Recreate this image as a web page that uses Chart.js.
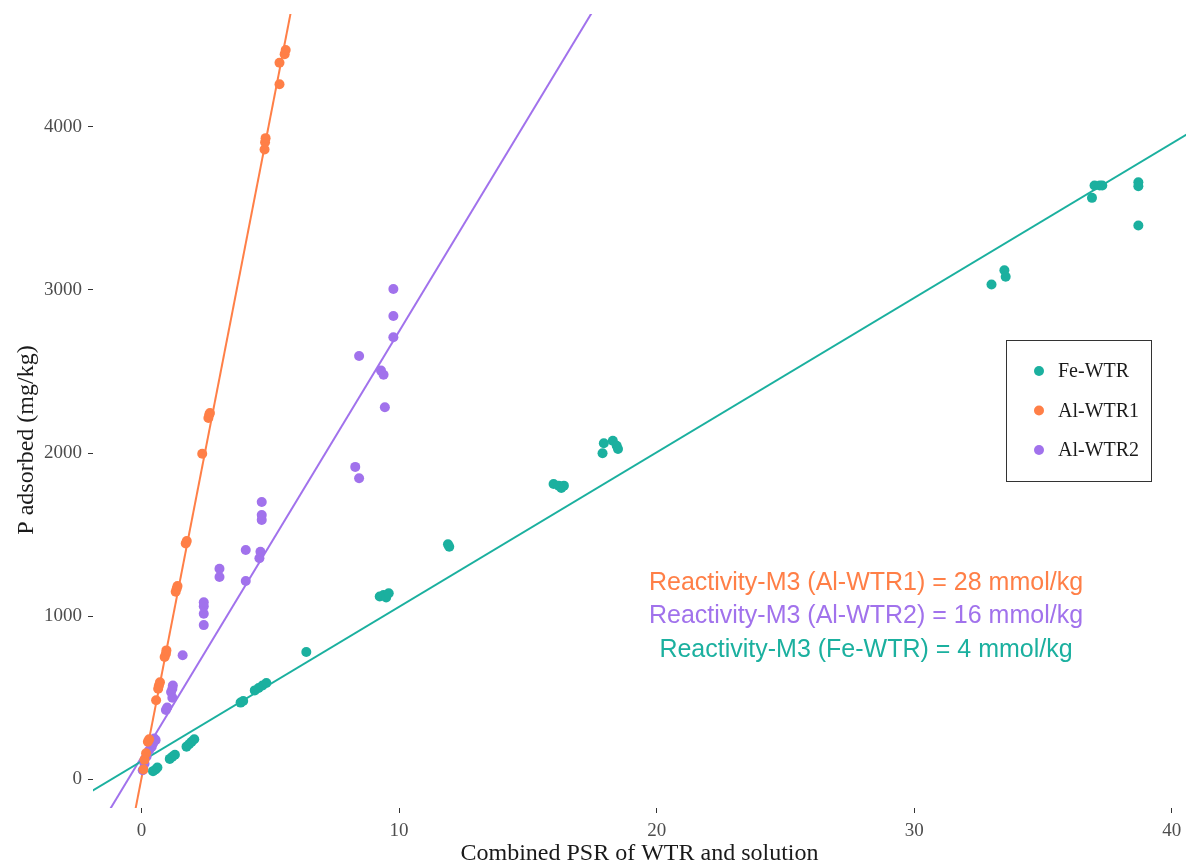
<!DOCTYPE html>
<html>
<head>
<meta charset="utf-8">
<script src="https://cdn.jsdelivr.net/npm/chart.js@4/dist/chart.umd.min.js"></script>
<style>
  html, body { margin: 0; padding: 0; background: #fff; }
  #wrap { width: 1186px; height: 867px; }
</style>
</head>
<body>
<div id="wrap"><canvas id="psr"></canvas></div>
<script>
// --- measured points ---
const feX = [0.45, 0.55, 0.62, 1.1, 1.2, 1.3, 1.75, 1.85, 1.95, 2.05, 3.85, 3.95, 4.4, 4.55, 4.7, 4.85, 6.4,
  9.25, 9.4, 9.5, 9.6, 11.9, 11.95, 16.0, 16.2, 16.3, 16.4, 17.9, 17.95, 18.3, 18.45, 18.5,
  33.0, 33.5, 33.55, 36.9, 37.0, 37.2, 37.3, 38.7, 38.7, 38.7];
const feY = [50, 60, 72, 125, 138, 150, 200, 215, 230, 245, 470, 480, 545, 560, 575, 590, 780,
  1120, 1130, 1115, 1140, 1440, 1425, 1810, 1800, 1785, 1800, 1998, 2060, 2075, 2045, 2025,
  3033, 3120, 3080, 3564, 3640, 3640, 3640, 3660, 3635, 3395];

const al1X = [0.08, 0.12, 0.18, 0.25, 0.3, 0.57, 0.65, 0.68, 0.72, 0.9, 0.95, 0.97, 1.33, 1.37, 1.4,
  1.72, 1.76, 2.36, 2.6, 2.63, 2.66, 4.78, 4.8, 4.82, 5.36, 5.36, 5.56, 5.6];
const al1Y = [60, 120, 160, 230, 245, 485, 555, 575, 595, 750, 770, 790, 1150, 1170, 1185,
  1445, 1460, 1995, 2215, 2235, 2245, 3860, 3905, 3930, 4260, 4392, 4445, 4470];

const al2X = [0.05, 0.12, 0.2, 0.3, 0.4, 0.45, 0.5, 0.55, 0.95, 1.0, 1.2, 1.15, 1.2, 1.22, 1.6,
  2.42, 2.42, 2.42, 2.42, 3.03, 3.03, 4.05, 4.05, 4.58, 4.62, 4.67, 4.67, 4.67,
  8.3, 8.45, 8.45, 9.3, 9.4, 9.45, 9.78, 9.78, 9.78];
const al2Y = [55, 95, 140, 178, 200, 220, 250, 240, 425, 440, 500, 535, 555, 575, 760,
  945, 1015, 1060, 1085, 1240, 1290, 1215, 1405, 1355, 1395, 1590, 1620, 1700,
  1915, 1845, 2595, 2505, 2480, 2280, 2710, 2840, 3005];

// fitted lines, end points only
const feFitX = [-2, 41];
const feFitY = [-79, 3993];
const al1FitX = [-0.4, 6.2];
const al1FitY = [-319, 5027];
const al2FitX = [-1.5, 18.5];
const al2FitY = [-257, 4964];

const seriesNames = ['Fe-WTR', 'Al-WTR1', 'Al-WTR2'];
const reactivityText = [
  'Reactivity-M3 (Al-WTR1) = 28 mmol/kg',
  'Reactivity-M3 (Al-WTR2) = 16 mmol/kg',
  'Reactivity-M3 (Fe-WTR) = 4 mmol/kg'
];
const xTicks = [0, 10, 20, 30, 40];
const yTicks = [0, 1000, 2000, 3000, 4000];

const TEAL = '#1bb09f';
const ORANGE = '#ff7f47';
const PURPLE = '#a172ec';
const SERIF = '"Liberation Serif", "DejaVu Serif", serif';
const SANS = '"Liberation Sans", Arial, sans-serif';

const pts = (xs, ys) => xs.map((x, i) => ({ x, y: ys[i] }));

function pointSet(label, xs, ys, color) {
  return {
    label, data: pts(xs, ys), showLine: false, order: 0,
    pointRadius: 5, pointHoverRadius: 5, pointBorderWidth: 0,
    backgroundColor: color, borderColor: color
  };
}

function fitLine(xs, ys, color) {
  return {
    label: '', data: pts(xs, ys), showLine: true, order: 1,
    pointRadius: 0, borderWidth: 2, borderColor: color, fill: false
  };
}

// legend box, axis titles, reactivity notes
const overlay = {
  id: 'overlay',
  afterDraw(chart) {
    const ctx = chart.ctx;
    const area = chart.chartArea;
    ctx.save();

    ctx.fillStyle = '#1a1a1a';
    ctx.font = '24px ' + SERIF;
    ctx.textAlign = 'center';
    ctx.textBaseline = 'middle';
    ctx.translate(27, 440);
    ctx.rotate(-Math.PI / 2);
    ctx.fillText('P adsorbed (mg/kg)', 0, 0);
    ctx.setTransform(1, 0, 0, 1, 0, 0);

    ctx.fillText('Combined PSR of WTR and solution', (area.left + area.right) / 2, 854);

    const noteColors = [ORANGE, PURPLE, TEAL];
    ctx.font = '25px ' + SANS;
    reactivityText.forEach((t, i) => {
      ctx.fillStyle = noteColors[i];
      ctx.fillText(t, 866, 583 + i * 33.5);
    });

    ctx.strokeStyle = '#333';
    ctx.lineWidth = 1;
    ctx.strokeRect(1006.5, 340.5, 145, 141);
    const legColors = [TEAL, ORANGE, PURPLE];
    ctx.font = '20px ' + SERIF;
    ctx.textAlign = 'left';
    seriesNames.forEach((name, i) => {
      const cy = 371 + i * 39.5;
      ctx.fillStyle = legColors[i];
      ctx.beginPath();
      ctx.arc(1039, cy, 5, 0, Math.PI * 2);
      ctx.fill();
      ctx.fillStyle = '#1a1a1a';
      ctx.fillText(name, 1058, cy + 1);
    });
    ctx.restore();
  }
};

new Chart(document.getElementById('psr'), {
  type: 'scatter',
  data: {
    datasets: [
      pointSet(seriesNames[0], feX, feY, TEAL),
      pointSet(seriesNames[1], al1X, al1Y, ORANGE),
      pointSet(seriesNames[2], al2X, al2Y, PURPLE),
      fitLine(feFitX, feFitY, TEAL),
      fitLine(al1FitX, al1FitY, ORANGE),
      fitLine(al2FitX, al2FitY, PURPLE)
    ]
  },
  options: {
    responsive: true,
    maintainAspectRatio: false,
    animation: false,
    layout: { autoPadding: false, padding: { top: 14, right: 0, left: 0, bottom: 0 } },
    plugins: { legend: { display: false }, tooltip: { enabled: false } },
    scales: {
      x: {
        type: 'linear', min: -1.88, max: 40.55,
        afterBuildTicks: s => { s.ticks = xTicks.map(v => ({ value: v })); },
        afterFit: s => { s.height = 59; s.paddingLeft = 0; s.paddingRight = 0; },
        border: { display: false },
        grid: { drawOnChartArea: false, tickLength: 5, tickColor: '#333', tickWidth: 1 },
        ticks: { color: '#4d4d4d', padding: 7, font: { family: SERIF, size: 19 }, callback: v => String(v) }
      },
      y: {
        type: 'linear', min: -176, max: 4691,
        afterBuildTicks: s => { s.ticks = yTicks.map(v => ({ value: v })); },
        afterFit: s => { s.width = 93; s.paddingTop = 0; s.paddingBottom = 0; },
        border: { display: false },
        grid: { drawOnChartArea: false, tickLength: 5, tickColor: '#333', tickWidth: 1 },
        ticks: { color: '#4d4d4d', padding: 6, font: { family: SERIF, size: 19 }, callback: v => String(v) }
      }
    }
  },
  plugins: [overlay]
});
</script>
</body>
</html>
